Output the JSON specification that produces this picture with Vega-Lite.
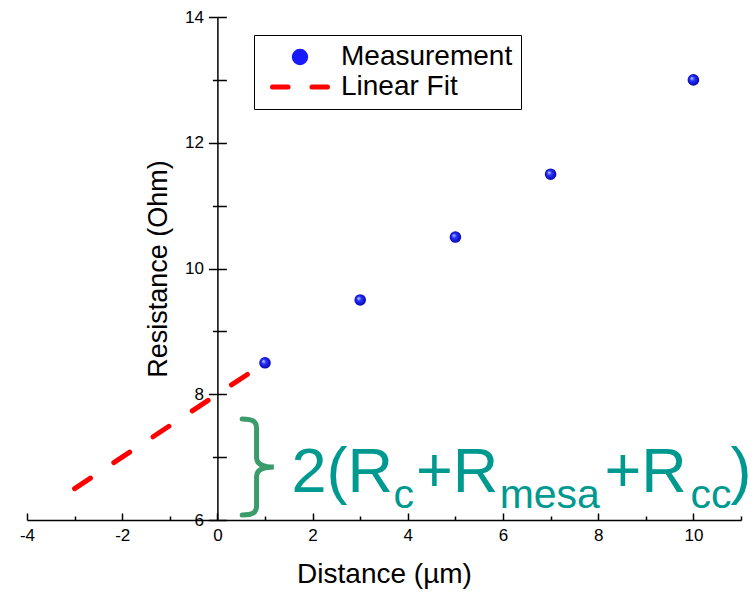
{
  "$schema": "https://vega.github.io/schema/vega-lite/v6.json",
  "width": 714,
  "height": 503,
  "autosize": {"type": "none"},
  "padding": {"left": 27, "top": 17, "right": 15, "bottom": 72},
  "background": "white",
  "config": {"view": {"stroke": null}, "font": "Liberation Sans"},
  "datasets": {
    "measurements": [
      {"x": 1, "y": 8.5},
      {"x": 3, "y": 9.5},
      {"x": 5, "y": 10.5},
      {"x": 7, "y": 11.5},
      {"x": 10, "y": 13}
    ],
    "fit": [
      {"x": -3, "y": 6.5, "series": "Linear Fit"},
      {"x": 1, "y": 8.5, "series": "Linear Fit"}
    ],
    "brace": [{"x": 0.853, "y": 6.843}],
    "mainText": [
      {"x": 1.557, "y": 6.445, "text": "2(R"},
      {"x": 4.172, "y": 6.445, "text": "+R"},
      {"x": 8.132, "y": 6.445, "text": "+R"},
      {"x": 10.78, "y": 6.445, "text": ")"}
    ],
    "subText": [
      {"x": 3.70, "y": 6.191, "text": "c"},
      {"x": 5.93, "y": 6.191, "text": "mesa"},
      {"x": 9.94, "y": 6.191, "text": "cc"}
    ]
  },
  "resolve": {"axis": {"y": "independent"}},
  "layer": [
    {
      "data": {"name": "measurements"},
      "mark": {
        "type": "point",
        "filled": true,
        "size": 135,
        "opacity": 1,
        "strokeWidth": 0,
        "fill": {
          "gradient": "radial",
          "x1": 0.35, "y1": 0.35, "r1": 0,
          "x2": 0.5, "y2": 0.5, "r2": 0.55,
          "stops": [
            {"offset": 0, "color": "#d8deff"},
            {"offset": 0.35, "color": "#2a35ff"},
            {"offset": 1, "color": "#0000a8"}
          ]
        }
      },
      "encoding": {
        "x": {
          "field": "x", "type": "quantitative",
          "scale": {"domain": [-4, 11], "nice": false, "zero": false},
          "axis": {
            "values": [-4, -3, -2, -1, 0, 1, 2, 3, 4, 5, 6, 7, 8, 9, 10, 11],
            "labelExpr": "datum.value % 2 === 0 ? toString(datum.value) : ''",
            "tickSize": {"condition": {"test": "datum.value % 2 === 0", "value": -7}, "value": -4},
            "tickColor": "black",
            "tickWidth": 1.5,
            "domainColor": "black",
            "domainWidth": 1.5,
            "grid": false,
            "labelFont": "Liberation Sans",
            "labelFontSize": 17,
            "labelColor": "black",
            "labelPadding": 14,
            "labelFlush": false,
            "labelOverlap": false,
            "title": "Distance (µm)",
            "titleFont": "Liberation Sans",
            "titleFontSize": 28,
            "titleFontWeight": "normal",
            "titleColor": "black",
            "titlePadding": 14
          }
        },
        "y": {
          "field": "y", "type": "quantitative",
          "scale": {"domain": [6, 14], "nice": false, "zero": false},
          "axis": {
            "orient": "left",
            "offset": -190.4,
            "values": [6, 7, 8, 9, 10, 11, 12, 13, 14],
            "labelExpr": "datum.value % 2 === 0 ? toString(datum.value) : ''",
            "tickSize": {"condition": {"test": "datum.value % 2 === 0", "value": 9}, "value": 5},
            "tickColor": "black",
            "tickWidth": 1.5,
            "domainColor": "black",
            "domainWidth": 1.5,
            "grid": false,
            "labelFont": "Liberation Sans",
            "labelFontSize": 17,
            "labelColor": "black",
            "labelPadding": 5,
            "labelFlush": false,
            "labelOverlap": false,
            "title": "Resistance (Ohm)",
            "titleFont": "Liberation Sans",
            "titleFontSize": 27,
            "titleFontWeight": "normal",
            "titleColor": "black",
            "titlePadding": 12
          }
        }
      }
    },
    {
      "data": {"name": "fit"},
      "mark": {"type": "line", "strokeWidth": 5, "strokeDash": [19, 28], "strokeCap": "round", "clip": false},
      "encoding": {
        "x": {"field": "x", "type": "quantitative"},
        "y": {
          "field": "y", "type": "quantitative",
          "axis": {
            "orient": "right",
            "offset": -523.6,
            "values": [6, 7, 8, 9, 10, 11, 12, 13, 14],
            "labels": false,
            "domain": false,
            "tickSize": 9,
            "tickColor": "black",
            "tickWidth": 1.5,
            "grid": false,
            "title": null
          }
        },
        "color": {
          "field": "series", "type": "nominal",
          "scale": {"domain": ["Measurement", "Linear Fit"], "range": ["#1a1aff", "red"]},
          "legend": {
            "orient": "none",
            "legendX": 227,
            "legendY": 18,
            "title": null,
            "direction": "vertical",
            "fillColor": "white",
            "strokeColor": "black",
            "padding": 8,
            "labelFont": "Liberation Sans",
            "labelFontSize": 28,
            "labelColor": "black",
            "labelLimit": 400,
            "symbolSize": 400,
            "symbolOffset": 24,
            "symbolStrokeWidth": 5,
            "labelOffset": 27,
            "rowPadding": 0,
            "encode": {
              "symbols": {
                "update": {
                  "shape": {"signal": "datum.value === 'Measurement' ? 'circle' : 'M-2.75,0L-1.2,0M1.2,0L2.75,0'"},
                  "size": {"signal": "datum.value === 'Measurement' ? 130 : 400"},
                  "fill": {"signal": "datum.value === 'Measurement' ? '#1a1aff' : 'transparent'"},
                  "stroke": {"signal": "datum.value === 'Measurement' ? 'transparent' : 'red'"},
                  "strokeWidth": {"value": 5},
                  "strokeDash": {"value": [100, 0]},
                  "strokeCap": {"value": "round"}
                }
              }
            }
          }
        }
      }
    },
    {
      "data": {"name": "brace"},
      "mark": {
        "type": "point",
        "filled": false,
        "shape": "M-0.33,-1C-0.1,-1 -0.03,-0.95 -0.03,-0.8L-0.03,-0.2C-0.03,-0.05 0.1,0 0.33,0C0.1,0 -0.03,0.05 -0.03,0.2L-0.03,0.8C-0.03,0.95 -0.1,1 -0.33,1",
        "size": 9216,
        "stroke": "#3a9b6b",
        "strokeWidth": 5,
        "strokeCap": "round",
        "opacity": 1
      },
      "encoding": {
        "x": {"field": "x", "type": "quantitative"},
        "y": {"field": "y", "type": "quantitative", "axis": null}
      }
    },
    {
      "data": {"name": "mainText"},
      "mark": {"type": "text", "align": "left", "baseline": "alphabetic", "font": "Liberation Sans", "fontSize": 63, "color": "#009990"},
      "encoding": {
        "x": {"field": "x", "type": "quantitative"},
        "y": {"field": "y", "type": "quantitative", "axis": null},
        "text": {"field": "text"}
      }
    },
    {
      "data": {"name": "subText"},
      "mark": {"type": "text", "align": "left", "baseline": "alphabetic", "font": "Liberation Sans", "fontSize": 41, "color": "#009990"},
      "encoding": {
        "x": {"field": "x", "type": "quantitative"},
        "y": {"field": "y", "type": "quantitative", "axis": null},
        "text": {"field": "text"}
      }
    }
  ]
}
